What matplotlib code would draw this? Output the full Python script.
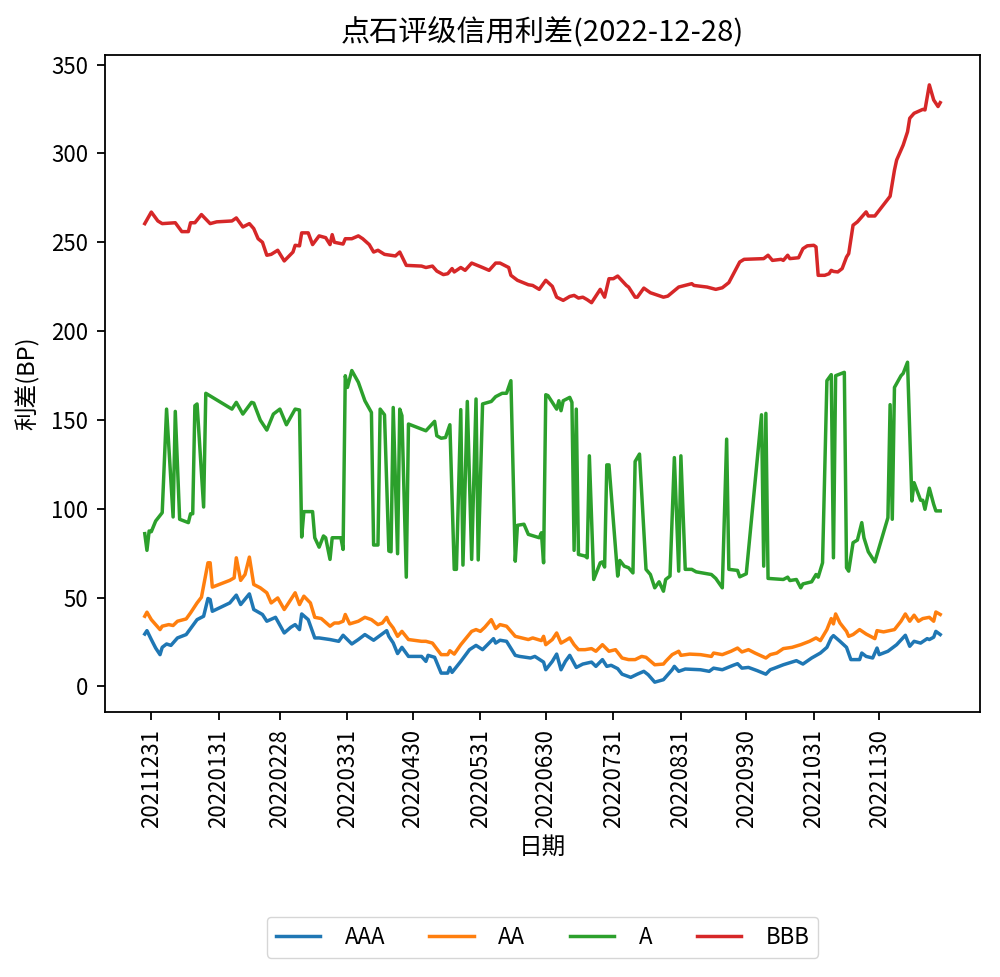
import pandas as pd
import matplotlib.pyplot as plt

plt.rcParams['font.family'] = ['Noto Sans CJK SC', 'DejaVu Sans']
plt.rcParams['axes.unicode_minus'] = False

# 数据：相对 2021-12-28 的天数 + 利差(BP)
start = pd.Timestamp('2021-12-28')

aaa_day = [0, 1, 3, 5, 7, 8, 10, 12, 15, 19, 21, 24, 27, 29, 30, 31, 39, 42, 44, 48,
           50, 52, 54, 56, 60, 64, 67, 69, 71, 72, 75, 78, 80, 85, 89, 91, 95, 98, 101, 105,
           111, 112, 114, 116, 118, 121, 127, 129, 130, 133, 136, 139, 140, 141, 145, 149, 152, 155, 158, 160,
           161, 163, 166, 170, 172, 177, 179, 183, 184, 187, 189, 191, 193, 195, 198, 201, 205, 207, 210, 212,
           214, 217, 219, 223, 226, 229, 231, 234, 238, 239, 242, 243, 245, 248, 255, 259, 261, 265, 270, 272,
           274, 277, 281, 285, 287, 289, 293, 299, 302, 306, 310, 313, 315, 316, 319, 322, 324, 328, 329, 331,
           334, 336, 337, 341, 345, 349, 351, 353, 356, 359, 360, 362, 363, 365]
aaa = [29.5, 31.4, 26.4, 21.6, 17.9, 22, 23.9, 23.1, 27.3, 29.2, 32.6, 37.6, 39.5, 49.5, 48.9, 42.3, 47, 51.4, 46.1, 52.1,
       43.3, 41.9, 40.5, 36.7, 38.9, 30.1, 33.3, 34.8, 32, 40.8, 37.6, 27.3, 27.3, 26.4, 25.4, 28.8, 23.9, 26.4, 29.2, 26,
       31.4, 28.2, 24.5, 18.5, 22, 16.9, 16.9, 14.1, 17.5, 16.4, 7.5, 7.5, 10.7, 7.9, 14.1, 20.7, 23.1, 20.7, 24.4, 26.9,
       24.4, 26, 25.4, 17.5, 16.9, 16, 16.9, 13.7, 9.4, 14.1, 18.2, 9.4, 14.1, 17.5, 10.7, 12.6, 13.7, 11.3, 15.1, 11.3,
       11.9, 10, 6.9, 5.1, 6.9, 8.5, 6.6, 2.4, 3.8, 5.2, 9.4, 11.3, 8.5, 9.8, 9.4, 8.5, 10.3, 9.4, 11.9, 12.8,
       10.3, 10.7, 8.9, 6.9, 9.4, 10.3, 12.2, 14.5, 12.6, 16, 18.8, 22, 27.3, 28.6, 25.4, 22, 15.1, 15.1, 18.8, 16.9,
       16, 21.6, 17.9, 19.8, 23.5, 28.8, 22.6, 25.4, 24.4, 26.9, 26.4, 27.7, 31, 29.2]

aa_day = [0, 1, 3, 7, 8, 11, 13, 15, 19, 21, 24, 26, 29, 30, 31, 39, 41, 42, 44, 46,
          48, 50, 53, 56, 58, 61, 64, 66, 69, 71, 73, 76, 78, 81, 85, 87, 89, 91, 92, 94,
          98, 101, 104, 107, 109, 111, 112, 114, 116, 118, 121, 127, 129, 132, 136, 139, 140, 142, 145, 150,
          152, 154, 156, 159, 161, 163, 166, 170, 173, 176, 178, 182, 183, 184, 187, 189, 191, 193, 195, 197,
          199, 202, 205, 207, 210, 213, 216, 219, 222, 225, 228, 230, 234, 238, 239, 242, 245, 246, 250, 255,
          260, 261, 265, 269, 272, 274, 277, 280, 285, 287, 290, 293, 297, 301, 305, 308, 310, 313, 315, 316,
          317, 319, 322, 323, 325, 328, 331, 335, 336, 339, 344, 347, 349, 351, 353, 355, 357, 360, 362, 363, 365]
aa = [39.5, 41.8, 37.6, 32, 33.9, 34.8, 34.3, 36.7, 38, 41.4, 47, 50.2, 69.6, 69.6, 55.9, 59.7, 61.1, 72.4, 59.7, 63,
      72.8, 57.4, 55.5, 52.7, 47, 49.8, 43.3, 47, 52.7, 46.1, 50.8, 47, 38.9, 38.2, 33.9, 35.7, 35.7, 36.7, 40.5, 35.2,
      36.7, 38.9, 37.6, 34.8, 35.7, 38.9, 36.1, 32.9, 28.2, 31, 26.4, 25.4, 25.4, 24.4, 17.9, 17.9, 20.1, 18.2, 23.5, 31,
      32, 31, 33.3, 37.6, 32.6, 34.8, 33.9, 28.2, 27.3, 26.4, 27.3, 25.8, 28.2, 23.5, 26.4, 30.1, 24.4, 25.8, 27.3, 23.5,
      20.7, 20.7, 21.3, 19.8, 23.5, 19.8, 20.7, 16, 15.1, 15.1, 16.9, 16.4, 12.2, 12.6, 14.1, 17.9, 19.8, 17.5, 18.2, 17.9,
      16.9, 18.8, 17.9, 19.8, 21.6, 19.4, 20.7, 18.8, 16, 17.9, 18.8, 21.3, 22, 23.5, 25.4, 27.3, 25.8, 32, 38.2, 35.2,
      40.8, 35.7, 31, 28.2, 29.2, 32, 29.5, 26.9, 31.4, 30.7, 32, 36.7, 40.8, 36.7, 40.1, 36.7, 38.2, 38.9, 36.7, 41.9, 40.5]

a_day = [0, 1, 2, 3, 5, 8, 10, 13, 14, 16, 20, 21, 22, 23, 24, 27, 28, 40, 42, 45,
         49, 50, 53, 56, 59, 62, 65, 69, 71, 72, 73, 77, 78, 80, 82, 83, 85, 86, 90, 91,
         92, 93, 95, 98, 101, 104, 105, 107, 108, 110, 112, 113, 114, 116, 117, 118, 120, 121, 129, 133,
         134, 136, 138, 140, 142, 143, 145, 146, 148, 150, 152, 153, 155, 159, 161, 164, 166, 168, 170, 171,
         174, 176, 181, 182, 183, 184, 185, 189, 190, 191, 192, 195, 196, 197, 198, 199, 202, 203, 204, 206,
         209, 210, 211, 212, 213, 217, 218, 220, 222, 224, 225, 227, 230, 232, 234, 236, 238, 239, 241, 243,
         245, 246, 248, 251, 253, 260, 262, 265, 267, 268, 272, 273, 276, 283, 284, 285, 286, 293, 295, 296,
         299, 301, 302, 306, 308, 309, 311, 313, 315, 316, 317, 321, 322, 323, 325, 327, 329, 330, 332, 335,
         341, 342, 343, 344, 347, 348, 350, 352, 353, 356, 357, 358, 360, 362, 363, 365]
a = [86, 76.6, 87.5, 87.1, 93.1, 97.8, 156.1, 95.4, 154.8, 94.1, 92.2, 97.2, 97.2, 158, 159, 101, 165, 156.1, 159.9, 153.3,
     159.9, 159.5, 149.9, 144.3, 153.3, 156.1, 147.3, 156.1, 155.6, 84.1, 98.4, 98.4, 83.7, 78.4, 84.7, 83.7, 71.5, 83.7, 83.7, 77.1,
     174.9, 168.3, 177.8, 171.2, 160.8, 154.2, 79.6, 79.6, 156.1, 152.9, 76.2, 75.8, 157, 74.7, 156.1, 152.4, 61.5, 147.7, 143.9, 149.2,
     141.1, 139.7, 140.1, 147.3, 65.9, 65.9, 155.8, 68.3, 160.4, 71.5, 161.8, 71.2, 159, 160.4, 163.1, 165, 165, 172.1, 70.5, 90.7,
     91.3, 85.6, 83.7, 86.5, 69.6, 164.2, 163.7, 156.1, 160.8, 155.2, 160.8, 162.7, 159.9, 76.6, 156.1, 74.3, 73.4, 72.4, 129.8, 60.2,
     69.6, 70.1, 67.2, 124.7, 124.7, 62.1, 70.9, 67.7, 66.8, 63.9, 126.6, 130.8, 65.9, 63, 55.5, 58.9, 53.6, 60.2, 62.1, 128.8,
     64.9, 129.8, 65.9, 65.9, 64.5, 63, 60.8, 55.5, 139.2, 65.9, 65.3, 61.7, 63.4, 152.9, 67.7, 153.7, 60.8, 60.2, 61.5, 59.6,
     60.2, 55.5, 57.7, 58.9, 63, 61.5, 69.6, 172.1, 175.5, 72.4, 174.9, 176.8, 66.8, 64.9, 80.9, 82.4, 92.2, 83.7, 75.8, 70.1,
     95, 158.6, 94.1, 168.3, 174.9, 176.2, 182.5, 104.4, 114.7, 104.8, 104.8, 99.7, 111.6, 102.5, 98.8, 98.8]

bbb_day = [0, 3, 6, 8, 14, 17, 20, 21, 23, 26, 30, 33, 40, 42, 45, 48, 50, 52, 54, 56,
           58, 61, 64, 68, 69, 71, 72, 75, 77, 80, 83, 85, 86, 87, 91, 92, 95, 98, 100, 103,
           105, 107, 110, 115, 117, 120, 127, 129, 132, 134, 137, 139, 141, 142, 145, 147, 150, 155, 158, 161,
           163, 167, 168, 171, 176, 178, 181, 184, 187, 189, 192, 195, 197, 199, 201, 203, 205, 209, 211, 213,
           215, 217, 221, 222, 225, 226, 229, 232, 238, 240, 245, 251, 252, 258, 262, 265, 268, 273, 275, 284,
           286, 288, 292, 293, 295, 296, 300, 302, 304, 307, 308, 309, 312, 314, 315, 316, 318, 320, 322, 323,
           325, 327, 331, 332, 335, 337, 342, 344, 345, 348, 350, 351, 353, 357, 358, 360, 362, 364, 365]
bbb = [260.5, 267, 262, 260.5, 261, 256, 256, 261, 261, 265.6, 260.5, 261.5, 262, 263.7, 258.6, 260.5, 257.7, 252, 250, 242.7,
       243.2, 245.5, 239.5, 244.5, 248.3, 248, 255.3, 255.3, 248.7, 253.6, 252.6, 248.7, 254.3, 250, 249, 252, 252, 253.6, 252, 248.7,
       244.5, 245.5, 243.2, 242.3, 244.5, 237, 236.6, 235.8, 236.6, 233.8, 231.8, 232.3, 235.2, 233.3, 235.8, 234.2, 238.3, 235.8, 234.2, 238.3,
       238.3, 235.8, 231.4, 228.6, 226.1, 225.7, 223.5, 228.6, 225.2, 219.1, 217.3, 219.5, 220.1, 218.6, 219.1, 217.7, 216, 223.5, 219.1, 229.5,
       229.5, 231, 225.7, 224.8, 219.1, 219.1, 224.2, 221.6, 219.1, 219.7, 224.8, 226.7, 225.7, 224.8, 223.5, 224.4, 227.3, 238.9, 240.4, 240.8,
       242.7, 239.8, 240.4, 239.8, 242.7, 240.8, 241.3, 246.4, 248, 248.3, 247.4, 231.4, 231.4, 232.3, 234.2, 233.6, 233.3, 235.2, 241.7, 243.6,
       259.6, 261.5, 267.1, 264.8, 264.8, 268, 275.9, 290.6, 296.3, 304.7, 312.2, 319.8, 322.6, 324.8, 324.5, 338.6, 330.1, 326.4, 328.6]

names = ['AAA', 'AA', 'A', 'BBB']
tick_labels = ['20211231', '20220131', '20220228', '20220331', '20220430', '20220531',
               '20220630', '20220731', '20220831', '20220930', '20221031', '20221130']


def to_dates(days):
    return start + pd.to_timedelta(days, unit='D')


fig = plt.figure(figsize=(10, 9.77), dpi=100)
ax = fig.add_axes([0.105, 0.2712, 0.875, 0.6725])

for days, vals, name in zip([aaa_day, aa_day, a_day, bbb_day], [aaa, aa, a, bbb], names):
    ax.plot(to_dates(days), vals, lw=2.5, label=name)

ax.set_xticks(pd.to_datetime(tick_labels, format='%Y%m%d'))
ax.set_xticklabels(tick_labels, rotation=90)
ax.tick_params(labelsize=16, length=6, width=1.3, pad=6)
for s in ax.spines.values():
    s.set_linewidth(1.3)

ax.set_title('点石评级信用利差(2022-12-28)', fontsize=21, pad=10)
ax.set_xlabel('日期', fontsize=17, labelpad=6)
ax.set_ylabel('利差(BP)', fontsize=17, labelpad=8)
ax.legend(loc='upper center', bbox_to_anchor=(0.5, -0.295), ncol=4, fontsize=16,
          handlelength=2.0, handletextpad=1.1, columnspacing=2.0)

fig.savefig('out.png', dpi=100)
